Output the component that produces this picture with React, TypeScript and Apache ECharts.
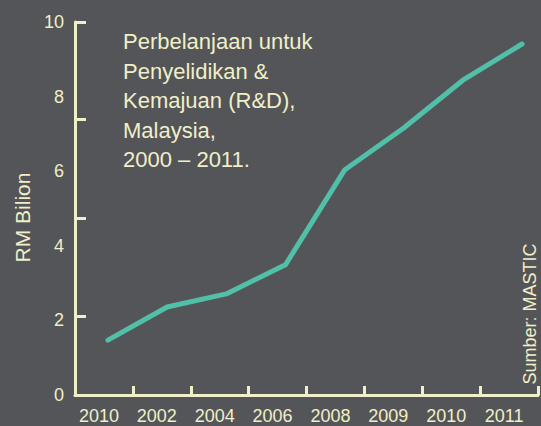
import React, { useEffect, useRef } from "react";
import * as echarts from "echarts";

const yearLabels = ["2010", "2002", "2004", "2006", "2008", "2009", "2010", "2011"];
const spending = [1.47, 2.36, 2.71, 3.49, 6.03, 7.16, 8.44, 9.41];
const yLabelValues = [0, 2, 4, 6, 8, 10];
const yTickMarks = [2.12, 4.75, 7.4, 10];
const titleLines = [
  "Perbelanjaan untuk",
  "Penyelidikan &",
  "Kemajuan (R&D),",
  "Malaysia,",
  "2000 – 2011.",
];
const yAxisTitle = "RM Bilion";
const sourceNote = "Sumber: MASTIC";

const BG = "#545558";
const CREAM = "#f0efc8";
const TEAL = "#52bfa9";
const FONT = "'Liberation Sans', Arial, sans-serif";

export default function App() {
  const ref = useRef<HTMLDivElement>(null);
  useEffect(() => {
    if (!ref.current) return;
    const chart = echarts.init(ref.current, null, { renderer: "svg" });
    chart.setOption({
      animation: false,
      backgroundColor: BG,
      textStyle: { fontFamily: FONT },
      title: {
        text: titleLines.join("\n"),
        left: 118,
        top: 22,
        textStyle: {
          color: CREAM,
          fontFamily: FONT,
          fontSize: 22,
          fontWeight: "normal",
          lineHeight: 29.5,
        },
      },
      grid: { left: 75, right: 3, top: 22, bottom: 31, containLabel: false },
      xAxis: [
        {
          type: "category",
          data: yearLabels,
          boundaryGap: true,
          axisLine: { show: true, onZero: false, lineStyle: { color: CREAM, width: 3 } },
          axisTick: {
            show: true,
            inside: true,
            length: 9,
            alignWithLabel: false,
            lineStyle: { color: CREAM, width: 3 },
          },
          axisLabel: {
            color: CREAM,
            fontFamily: FONT,
            fontSize: 18,
            margin: 12,
            padding: [0, 10, 0, 0],
          },
          splitLine: { show: false },
        },
        {
          type: "value",
          min: -0.557,
          max: 7.27,
          show: false,
        },
      ],
      yAxis: {
        type: "value",
        min: 0,
        max: 10,
        name: yAxisTitle,
        nameLocation: "middle",
        nameRotate: 90,
        nameGap: 36,
        nameTextStyle: {
          color: CREAM,
          fontFamily: FONT,
          fontSize: 21,
          padding: [0, 18, 0, 0],
        },
        axisLine: { show: true, onZero: false, lineStyle: { color: CREAM, width: 3 } },
        axisTick: {
          show: true,
          inside: true,
          length: 11,
          customValues: yTickMarks,
          lineStyle: { color: CREAM, width: 3 },
        },
        axisLabel: {
          color: CREAM,
          fontFamily: FONT,
          fontSize: 18,
          margin: 11,
          customValues: yLabelValues,
        },
        splitLine: { show: false },
      },
      graphic: [
        {
          type: "text",
          x: 530,
          y: 314,
          rotation: Math.PI / 2,
          style: {
            text: sourceNote,
            fill: CREAM,
            font: `18px ${FONT}`,
            align: "center",
            verticalAlign: "middle",
          },
        },
      ],
      series: [
        {
          type: "line",
          xAxisIndex: 1,
          data: spending.map((v, i) => [i, v]),
          symbol: "none",
          lineStyle: { color: TEAL, width: 5, cap: "round", join: "round" },
        },
      ],
    });
    return () => chart.dispose();
  }, []);
  return <div ref={ref} style={{ width: 541, height: 426, position: "fixed", left: 0, top: 0 }} />;
}
